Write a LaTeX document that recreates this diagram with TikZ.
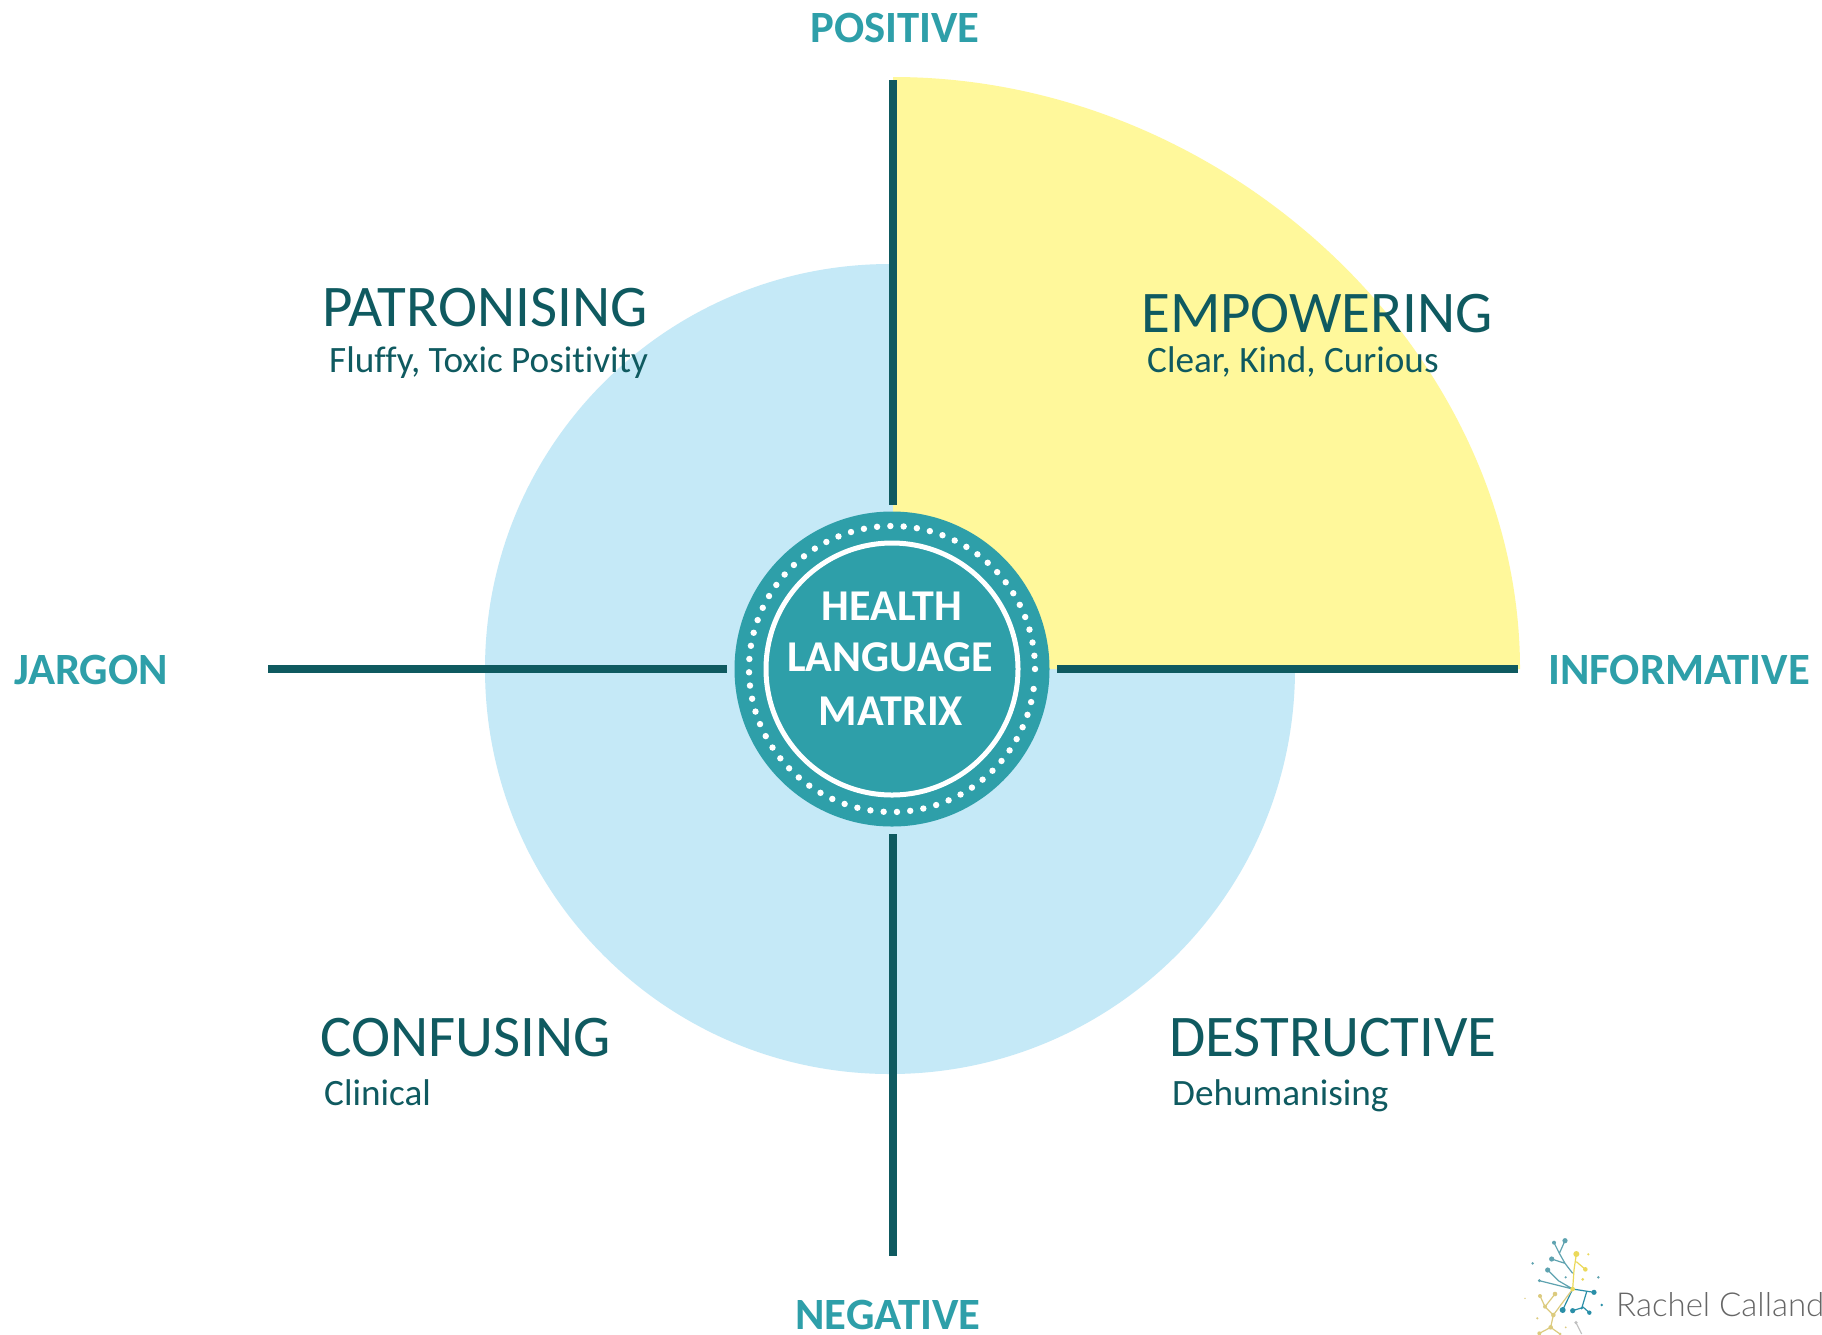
\documentclass[tikz,border=0pt]{standalone}
\usepackage{fontspec}
\usetikzlibrary{calc}
\setmainfont[Ligatures=NoCommon]{Carlito}
\newfontfamily\logofont{Lato Light}
\definecolor{teal1}{HTML}{2E9FA9}
\definecolor{dark1}{HTML}{0F5A60}
\definecolor{sky1}{HTML}{C5E9F7}
\definecolor{yel1}{HTML}{FFF89B}
\definecolor{logoT}{HTML}{5FA3B0}
\definecolor{logoB}{HTML}{2A8FA8}
\definecolor{logoY}{HTML}{EBD95A}
\definecolor{logoS}{HTML}{DCCB7E}
\tikzset{
 x=1pt,y=1pt,
 axisline/.style={draw=dark1,line width=7.5pt},
 axislabel/.style={text=teal1,font=\fontsize{44.7}{44.7}\selectfont\bfseries,inner sep=0pt},
 headlabel/.style={text=dark1,font=\fontsize{59}{59}\selectfont,inner sep=0pt,anchor=base west},
 sublabel/.style={text=dark1,font=\fontsize{37.2}{37.2}\selectfont,inner sep=0pt,anchor=base west},
 hubtext/.style={text=white,font=\fontsize{44}{44}\selectfont\bfseries,inner sep=0pt,anchor=base},
 lt/.style={draw=logoT,line width=1.2pt},
 lb/.style={draw=logoB,line width=1.2pt},
 ly/.style={draw=logoY,line width=1.2pt},
 ls/.style={draw=logoS,line width=1.2pt},
}
\begin{document}
\begin{tikzpicture}
\useasboundingbox (0,0) rectangle (1822,-1334);
\fill[white] (0,0) rectangle (1822,-1334);
\fill[sky1] (890,-669) circle (405);
\fill[yel1] (893,-669) -- (893,-77) .. controls (1228,-77) and (1520,-354) .. (1520,-669) -- cycle;
% medallion
\node[circle,fill=teal1,minimum size=315pt,inner sep=0pt] (hub) at (892,-669) {};
\draw[white,line width=5pt] (hub.center) circle (126);
\foreach \a in {0,5.333,...,355} \fill[white] ($(hub.center)+(\a:143)$) circle (3.2);
% axes
\coordinate (top) at (893,-80); \coordinate (topin) at (893,-505);
\coordinate (bot) at (893,-1256); \coordinate (botin) at (893,-834);
\coordinate (lft) at (268,-669); \coordinate (lftin) at (727,-669);
\coordinate (rgt) at (1518,-669); \coordinate (rgtin) at (1057,-669);
\draw[axisline] (top) -- (topin);
\draw[axisline] (botin) -- (bot);
\draw[axisline] (lft) -- (lftin);
\draw[axisline] (rgtin) -- (rgt);
% axis labels
\node[axislabel,anchor=base] (pos) at (895,-42) {POSITIVE};
\node[axislabel,anchor=base] (neg) at (888,-1329) {NEGATIVE};
\node[axislabel,anchor=base west] (jar) at (14,-684) {JARGON};
\node[axislabel,anchor=base west] (inf) at (1548,-684) {INFORMATIVE};
% quadrant labels
\node[headlabel] (pat) at (322,-326) {PATRONISING};
\node[sublabel] (patsub) at (329,-372) {Fluffy, Toxic Positivity};
\node[headlabel] (emp) at (1141,-332) {EMPOWERING};
\node[sublabel] (empsub) at (1147,-372) {Clear, Kind, Curious};
\node[headlabel] (con) at (320,-1056) {CONFUSING};
\node[sublabel] (consub) at (324,-1105) {Clinical};
\node[headlabel] (des) at (1169,-1056) {DESTRUCTIVE};
\node[sublabel] (dessub) at (1172,-1105) {Dehumanising};
% hub text
\node[hubtext] (h1) at (892,-620) {HEALTH};
\node[hubtext] (h2) at (890,-671) {LANGUAGE};
\node[hubtext] (h3) at (891,-725) {MATRIX};
% logo
\node[text=black!60,font=\logofont\fontsize{33}{33}\selectfont,inner sep=0pt,anchor=base west] (rc) at (1616,-1316) {Rachel Calland};
\begin{scope}[shift={(1500,-1220)},x=0.3333pt,y=-0.3333pt]
\draw[lt] (162,68)--(178,100) (195,62)--(178,100)--(195,130)--(218,160) (155,117)--(195,130);
\draw[lt] (143,150)--(175,182)--(218,207) (118,182)--(218,207);
\draw[lb] (218,207)--(282,217) (218,207)--(188,270) (260,215)--(245,265) (218,272)--(250,262)--(268,278);
\draw[ly] (229,102)--(222,150)--(218,207) (229,125)--(256,148);
\draw[ls] (218,207)--(160,285) (120,228)--(135,260)--(160,285) (165,222)--(135,260) (160,285)--(152,322)--(118,340) (152,322)--(180,342);
\draw[draw=black!25,line width=1.2pt] (228,308)--(245,342);
\foreach \p/\r in {{195,62}/2.6,{162,68}/2,{155,117}/2.6,{143,150}/2.6,{118,182}/1.6,{98,130}/1.4,{197,172}/1.2,{295,172}/1.4}
  \fill[logoT] (\p) circle (\r pt);
\foreach \p/\r in {{282,217}/2.6,{188,270}/3,{218,272}/2.6,{268,278}/2.2,{305,255}/1.4,{245,265}/1.2}
  \fill[logoB] (\p) circle (\r pt);
\foreach \p/\r in {{229,102}/3,{256,148}/2.3,{248,178}/1.5,{218,207}/2.3,{265,103}/1.2}
  \fill[logoY] (\p) circle (\r pt);
\foreach \p/\r in {{120,228}/2,{165,222}/2.3,{135,260}/2,{160,285}/2.3,{152,322}/2.3,{118,340}/2,{180,342}/1.5,{112,295}/1.2,{75,235}/0.8,{197,322}/1}
  \fill[logoS] (\p) circle (\r pt);
\fill[black!25] (228,308) circle (1.8pt);
\end{scope}
\end{tikzpicture}
\end{document}
